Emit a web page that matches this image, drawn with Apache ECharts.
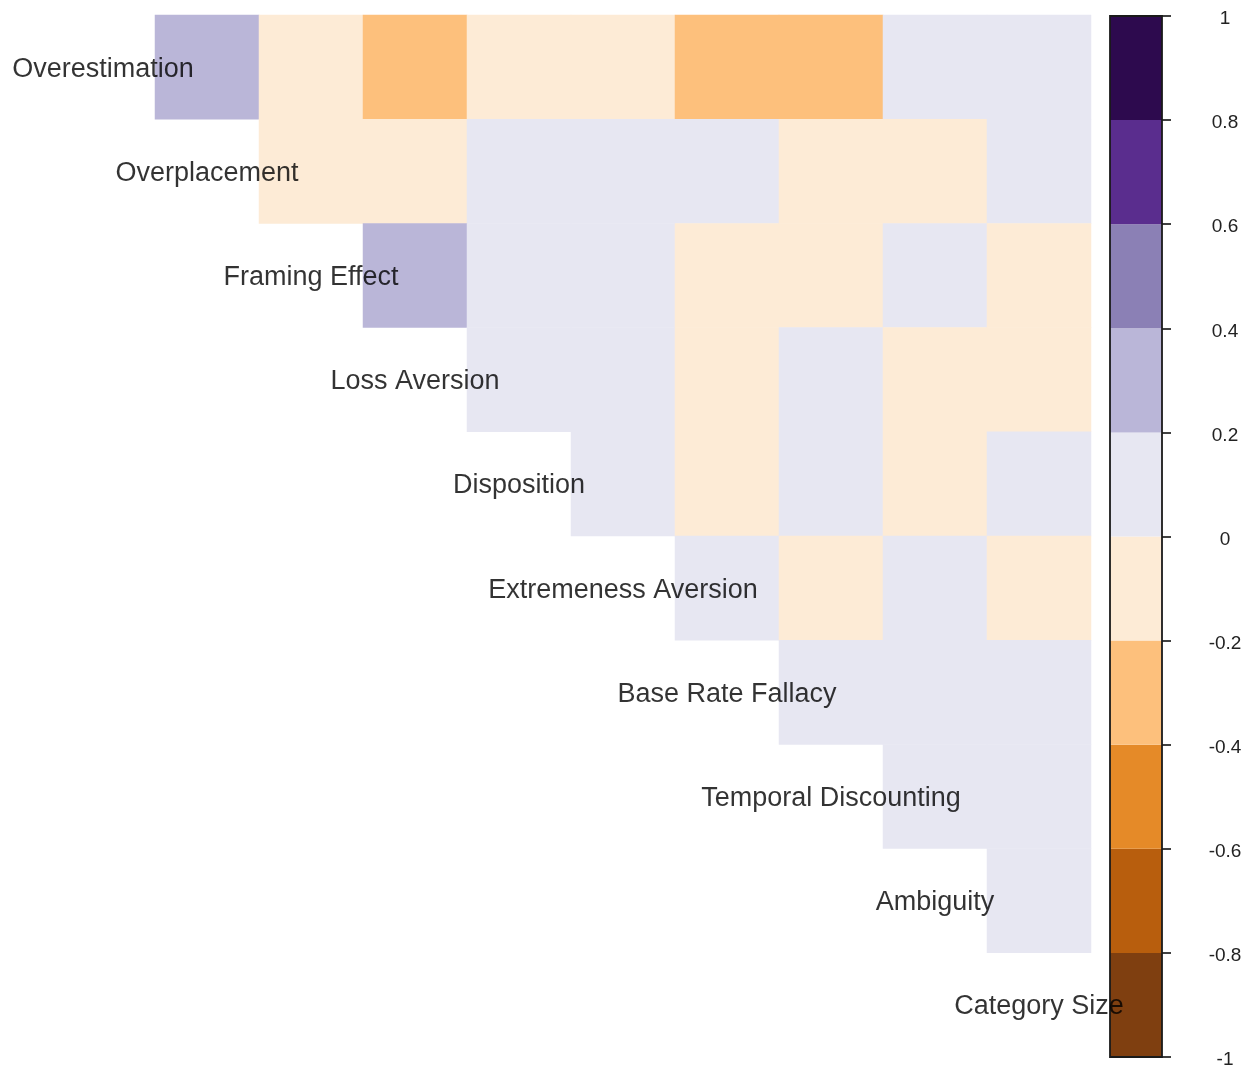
<!DOCTYPE html>
<html>
<head>
<meta charset="utf-8">
<title>Bias correlation matrix</title>
<script src="https://cdn.jsdelivr.net/npm/echarts@6/dist/echarts.min.js"></script>
<style>
  html, body { margin: 0; padding: 0; background: #ffffff; }
  #chart { width: 1254px; height: 1065px; }
</style>
</head>
<body>
<div id="chart"></div>
<script>
// Variables, in matrix order (rows top to bottom, columns left to right)
const categories = [
  'Overestimation', 'Overplacement', 'Framing Effect', 'Loss Aversion',
  'Disposition', 'Extremeness Aversion', 'Base Rate Fallacy',
  'Temporal Discounting', 'Ambiguity', 'Category Size'
];

// Upper-triangle correlations: each row lists the columns to the right of the diagonal
const rowOverestimation      = [0.31, -0.12, -0.27, -0.08, -0.15, -0.29, -0.24, 0.06, 0.11];
const rowOverplacement       = [-0.05, -0.14, 0.09, 0.04, 0.13, -0.10, -0.07, 0.05];
const rowFramingEffect       = [0.27, 0.12, 0.08, -0.11, -0.06, 0.03, -0.09];
const rowLossAversion        = [0.15, 0.07, -0.13, 0.02, -0.12, -0.04];
const rowDisposition         = [0.10, -0.08, 0.05, -0.16, 0.09];
const rowExtremenessAversion = [0.04, -0.10, 0.06, -0.05];
const rowBaseRateFallacy     = [0.08, 0.03, 0.12];
const rowTemporalDiscounting = [0.07, 0.02];
const rowAmbiguity           = [0.05];

// Colour scale: bin edges and one colour per bin (PuOr, orange = negative)
const binEdges = [-1, -0.8, -0.6, -0.4, -0.2, 0, 0.2, 0.4, 0.6, 0.8, 1];
const binColors = [
  '#7f3f10', '#b85e0d', '#e58a28', '#fdc07c', '#fdebd6',
  '#e7e7f2', '#bab6d8', '#8b80b5', '#5a2d8e', '#2d0a4e'
];
const colorbarTickLabels = ['-1', '-0.8', '-0.6', '-0.4', '-0.2', '0', '0.2', '0.4', '0.6', '0.8', '1'];

const upperRows = [
  rowOverestimation, rowOverplacement, rowFramingEffect, rowLossAversion,
  rowDisposition, rowExtremenessAversion, rowBaseRateFallacy,
  rowTemporalDiscounting, rowAmbiguity
];

// Heatmap cells: [column, row, value]
const cells = [];
upperRows.forEach(function (vals, r) {
  vals.forEach(function (v, j) {
    cells.push([r + 1 + j, r, v]);
  });
});

// Diagonal labels
const diagLabels = categories.map(function (name, i) { return [i, i, name]; });

// Colour bar bins: [0, lo, hi, index]
const colorbarBins = [];
for (let i = 0; i < binColors.length; i++) {
  colorbarBins.push([0, binEdges[i], binEdges[i + 1], i]);
}

const pieces = binColors.map(function (c, i) {
  return { gte: binEdges[i], lt: binEdges[i + 1], color: c };
});

const chart = echarts.init(document.getElementById('chart'), null, { renderer: 'canvas' });

const labelFont = '"Liberation Sans", Arial, Helvetica, sans-serif';

chart.setOption({
  backgroundColor: '#ffffff',
  animation: false,
  grid: [
    { left: 51, top: 15, width: 1040, height: 1042, containLabel: false, outerBoundsMode: 'none' },
    { left: 1110, top: 16, width: 52, height: 1041, containLabel: false, outerBoundsMode: 'none' }
  ],
  xAxis: [
    { type: 'category', gridIndex: 0, data: categories, show: false },
    { type: 'category', gridIndex: 1, data: ['scale'], show: false }
  ],
  yAxis: [
    { type: 'category', gridIndex: 0, data: categories, inverse: true, show: false },
    {
      type: 'value', gridIndex: 1, min: -1, max: 1, interval: 0.2,
      position: 'right',
      splitLine: { show: false },
      axisLine: { show: false },
      axisTick: { show: true, length: 9, lineStyle: { color: '#111111', width: 1.6 } },
      axisLabel: {
        show: true,
        margin: 63,
        align: 'center',
        color: '#222222',
        fontSize: 19,
        fontFamily: labelFont,
        formatter: function (v) {
          return '{t|' + colorbarTickLabels[Math.round((v + 1) / 0.2)] + '}';
        },
        rich: {
          t: {
            color: '#222222',
            fontSize: 19,
            fontFamily: labelFont,
            padding: [6, 0, 0, 0]
          }
        }
      }
    }
  ],
  visualMap: {
    type: 'piecewise',
    show: false,
    seriesIndex: 0,
    dimension: 2,
    pieces: pieces
  },
  series: [
    {
      type: 'heatmap',
      xAxisIndex: 0,
      yAxisIndex: 0,
      data: cells,
      itemStyle: { borderWidth: 0 },
      emphasis: { disabled: true },
      z: 2
    },
    {
      type: 'scatter',
      xAxisIndex: 0,
      yAxisIndex: 0,
      data: diagLabels,
      symbolSize: 0,
      z: 5,
      silent: true,
      label: {
        show: true,
        position: 'inside',
        offset: [0, 2],
        formatter: function (p) { return p.data[2]; },
        color: '#000000',
        fontSize: 27,
        fontFamily: labelFont
      }
    },
    {
      type: 'custom',
      xAxisIndex: 1,
      yAxisIndex: 1,
      data: colorbarBins,
      encode: { x: 0, y: [1, 2] },
      silent: true,
      z: 2,
      renderItem: function (params, api) {
        const cs = params.coordSys;
        const top = api.coord([0, api.value(2)])[1];
        const bottom = api.coord([0, api.value(1)])[1];
        return {
          type: 'rect',
          shape: { x: cs.x, y: top, width: cs.width, height: bottom - top },
          style: { fill: binColors[api.value(3)] }
        };
      }
    },
    {
      type: 'custom',
      xAxisIndex: 1,
      yAxisIndex: 1,
      data: [[0, binEdges[0], binEdges[binEdges.length - 1]]],
      encode: { x: 0, y: [1, 2] },
      silent: true,
      z: 4,
      renderItem: function (params, api) {
        const cs = params.coordSys;
        const top = api.coord([0, api.value(2)])[1];
        const bottom = api.coord([0, api.value(1)])[1];
        return {
          type: 'rect',
          shape: { x: cs.x, y: top, width: cs.width, height: bottom - top },
          style: { fill: 'none', stroke: '#1a1a1a', lineWidth: 1.8 }
        };
      }
    }
  ]
});
</script>
</body>
</html>
